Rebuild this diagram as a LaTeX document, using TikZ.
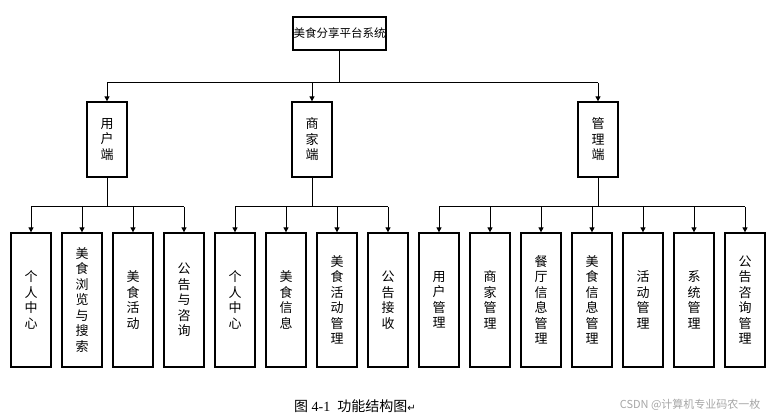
\documentclass[tikz,border=0pt]{standalone}
\usepackage{fontspec}
\newfontfamily\cjk{Noto Sans CJK SC}
\newfontfamily\dv{DejaVu Sans}
\setmainfont{Liberation Serif}
\usetikzlibrary{arrows.meta}
\tikzset{box/.style={draw,line width=1.3pt,inner sep=0pt,font=\cjk\fontsize{13}{15.5}\selectfont,align=center},
arr/.style={line width=1pt,-{Triangle[length=5pt,width=5pt]}},
ln/.style={line width=1pt}}
\begin{document}
\begin{tikzpicture}[x=1pt,y=-1pt]
\useasboundingbox (0,0) rectangle (768,419);
\node[box,minimum width=93pt,minimum height=33pt,font=\cjk\fontsize{11.5}{14}\selectfont] (top) at (339.5,33.5) {美食分享平台系统};
\node[box,minimum width=40pt,minimum height=75pt] (u) at (107,139.5) {用\\户\\端};
\node[box,minimum width=40pt,minimum height=75pt] (m) at (312,139.5) {商\\家\\端};
\node[box,minimum width=40pt,minimum height=75pt] (a) at (598,139.5) {管\\理\\端};
\coordinate (tb) at (339.5,83);
\draw[ln] (top.south) -- (tb);
\draw[ln] (107,83) -- (598,83);
\foreach \n/\x in {u/107,m/312,a/598} \draw[arr] (\x,83) -- (\n.north);
\foreach \i/\t in {1/个\\人\\中\\心,2/美\\食\\浏\\览\\与\\搜\\索,3/美\\食\\活\\动,4/公\\告\\与\\咨\\询,5/个\\人\\中\\心,6/美\\食\\信\\息,7/美\\食\\活\\动\\管\\理,8/公\\告\\接\\收,9/用\\户\\管\\理,10/商\\家\\管\\理,11/餐\\厅\\信\\息\\管\\理,12/美\\食\\信\\息\\管\\理,13/活\\动\\管\\理,14/系\\统\\管\\理,15/公\\告\\咨\\询\\管\\理}
  \node[box,minimum width=40pt,minimum height=134pt] (l\i) at ({31+51*(\i-1)},300) {\t};
\draw[ln] (u.south) -- (107,207); \draw[ln] (l1.north|-0,207) -- (l4.north|-0,207);
\draw[ln] (m.south) -- (312,207); \draw[ln] (l5.north|-0,207) -- (l8.north|-0,207);
\draw[ln] (a.south) -- (598,207); \draw[ln] (l9.north|-0,207) -- (l15.north|-0,207);
\foreach \i in {1,...,15} \draw[arr] (l\i.north|-0,207) -- (l\i.north);
\node[font=\fontsize{14}{16}\selectfont] (cap) at (355,406) {{\cjk 图} 4-1\ \ {\cjk 功能结构图}{\dv\fontsize{10}{12}\selectfont ↵}};
\node[font=\cjk\fontsize{11}{13}\selectfont,text=gray!70,anchor=east] (wm) at (764,405) {CSDN @计算机专业码农一枚};
\end{tikzpicture}
\end{document}
